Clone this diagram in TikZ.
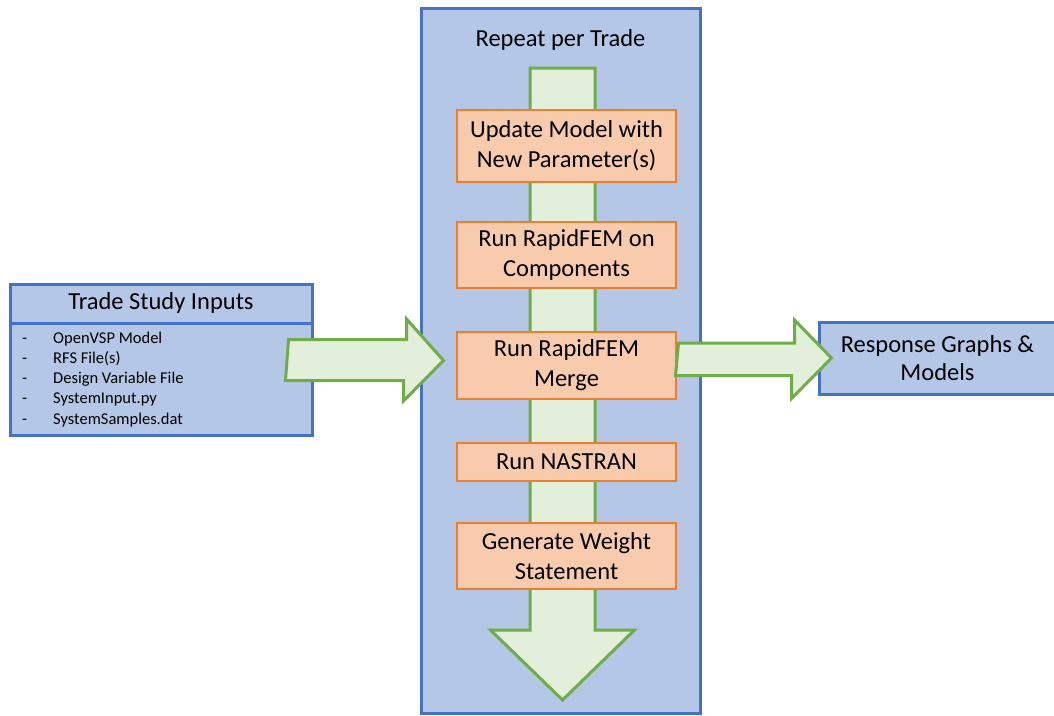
\documentclass[tikz,border=0pt]{standalone}
\usepackage{fontspec}
\setmainfont{Carlito}
\usetikzlibrary{calc}

\definecolor{frameblue}{HTML}{4472C4}
\definecolor{framefill}{HTML}{B4C7E7}
\definecolor{steporange}{HTML}{ED7D31}
\definecolor{stepfill}{HTML}{F8CBAD}
\definecolor{flowgreen}{HTML}{70AD47}
\definecolor{flowfill}{HTML}{E2EFDA}

\begin{document}
\begin{tikzpicture}[x=1pt, y=-1pt,
						frame/.style={draw=frameblue, fill=framefill, line width=3pt, rectangle},
						stepbox/.style={draw=steporange, fill=stepfill, line width=2.5pt, rectangle, minimum width=219pt, inner sep=0pt, align=center, font=\fontsize{24.5}{30}\selectfont},
						blockarrow/.style={draw=flowgreen, fill=flowfill, line width=3pt, line join=miter},
						heading/.style={font=\fontsize{24.5}{30}\selectfont, inner sep=0pt},]
		\useasboundingbox (0,0) rectangle (1054,715);

		% loop frame
		\node (repeat) [frame, minimum width=279pt, minimum height=705pt] at (560.5,360.5) {};
		\node (repeattitle) [heading] at (repeat.north |- 0,40) {Repeat per Trade};

		% downward flow arrow
		\coordinate (flowtop) at (562.5,68);
		\coordinate (flowtip) at (562.5,700);
		\draw [blockarrow] (flowtop) ++(-32.5,0) -- ++(65,0) -- ++(0,562) -- ++(39.5,0) -- (flowtip) -- ++(-72,-70) -- ++(39.5,0) -- cycle;

		% steps
		\node (update) [stepbox, minimum height=72pt] at (566.5,146) {Update Model with\\New Parameter(s)};
		\node (comps) [stepbox, minimum height=66pt] at (566.5,255) {Run RapidFEM on\\Components};
		\node (merge) [stepbox, minimum height=67pt] at (566.5,365.5) {Run RapidFEM\\Merge};
		\node (nastran) [stepbox, minimum height=38pt] at (566.5,462) {Run NASTRAN};
		\node (weight) [stepbox, minimum height=66pt] at (566.5,556) {Generate Weight\\Statement};

		% inputs
		\node (inputs) [frame, minimum width=302pt, minimum height=151pt] at (161,359.5) {};
		\draw [frameblue, line width=3pt] (inputs.west |- 0,323) -- (inputs.east |- 0,323);
		\node (inputstitle) [heading] at (inputs.north |- 0,303) {Trade Study Inputs};
		\node (inputlist) [anchor=north west, inner sep=0pt, font=\fontsize{16.5}{20.2}\selectfont] at (22,329)
			{\begin{tabular}{@{}l@{\hspace{26pt}}l@{}}
				- & OpenVSP Model\\
				- & RFS File(s)\\
				- & Design Variable File\\
				- & SystemInput.py\\
				- & SystemSamples.dat
			\end{tabular}};

		% outputs
		\node (response) [frame, minimum width=237pt, minimum height=72pt, align=center, font=\fontsize{24.5}{28}\selectfont] at (937.5,358) {Response Graphs \&\\Models};

		% block arrows in and out
		\coordinate (intail) at ([xshift=-25pt]inputs.east);
		\coordinate (intip) at ([xshift=24pt]repeat.west);
		\draw [blockarrow] (intail) ++(0,-20) -- ++(118,0) -- ++(0,-20.5) -- (intip) -- ++(-40,40.5) -- ++(0,-20.5) -- ++(-118,0) -- cycle;
		\coordinate (outtail) at ([xshift=-23pt]repeat.east);
		\coordinate (outtip) at ([xshift=14pt]response.west);
		\draw [blockarrow] (outtail) ++(0,-17.5) -- ++(116,0) -- ++(0,-23) -- (outtip) -- ++(-40,40.5) -- ++(0,-23) -- ++(-116,0) -- cycle;
	\end{tikzpicture}
\end{document}
